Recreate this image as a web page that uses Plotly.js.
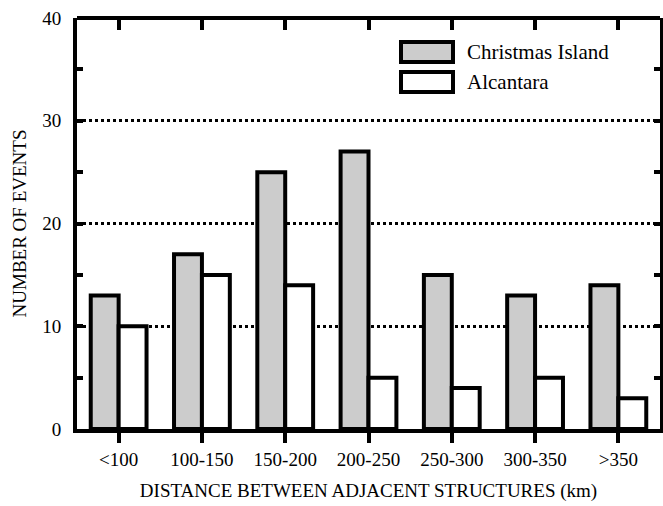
<!DOCTYPE html>
<html>
<head>
<meta charset="utf-8">
<script src="https://cdn.plot.ly/plotly-3.0.1.min.js"></script>
<style>html,body{margin:0;padding:0;background:#fff;}#chart{width:663px;height:506px;}</style>
</head>
<body>
<div id="chart"></div>
<script>
const categories = ['<100', '100-150', '150-200', '200-250', '250-300', '300-350', '>350'];
const seriesNames = ['Christmas Island', 'Alcantara'];
const christmasIsland = [13, 17, 25, 27, 15, 13, 14];
const alcantara = [10, 15, 14, 5, 4, 5, 3];
const yTicks = [0, 10, 20, 30, 40];
const yMinorTicks = [5, 15, 25, 35];
const categoryIndex = categories.map((c, i) => i);

const FONT = "Liberation Serif, Times New Roman, serif";

const traces = [
  {type: 'bar', name: seriesNames[0], x: categories, y: christmasIsland,
   marker: {color: '#cccccc', line: {color: 'black', width: 4}}, showlegend: false},
  {type: 'bar', name: seriesNames[1], x: categories, y: alcantara,
   marker: {color: '#ffffff', line: {color: 'black', width: 4}}, showlegend: false},
  {type: 'scatter', x: categoryIndex, y: christmasIsland, xaxis: 'x2', yaxis: 'y2', mode: 'markers',
   marker: {opacity: 0, size: 1}, showlegend: false, hoverinfo: 'skip'}
];

const layout = {
  width: 663, height: 506,
  margin: {l: 77, r: 3, t: 18, b: 77},
  paper_bgcolor: 'white', plot_bgcolor: 'white',
  font: {family: FONT, color: 'black', size: 19},
  barmode: 'group', bargap: 0.33, bargroupgap: 0,
  showlegend: false,
  xaxis: {
    type: 'category', categoryarray: categories, range: [-0.5, 6.5],
    showline: true, linewidth: 4, linecolor: 'black',
    ticks: 'outside', ticklen: 10, tickwidth: 4, tickcolor: 'black',
    tickfont: {family: FONT, size: 19},
    showgrid: false, zeroline: false,
    title: {text: 'DISTANCE BETWEEN ADJACENT STRUCTURES (km)', font: {family: FONT, size: 19}, standoff: 16}
  },
  xaxis2: {
    type: 'linear', range: [-0.5, 6.5],
    tickmode: 'array', tickvals: categoryIndex,
    overlaying: 'x', side: 'bottom', anchor: 'free', position: 1,
    showline: true, linewidth: 4, linecolor: 'black',
    ticks: 'outside', ticklen: 10, tickwidth: 4, tickcolor: 'black',
    showticklabels: false, showgrid: false, zeroline: false
  },
  yaxis: {
    range: [0, 40], tickvals: yTicks, ticktext: yTicks.map(String),
    showline: true, linewidth: 4, linecolor: 'black',
    ticks: 'inside', ticklen: 6, tickwidth: 4, tickcolor: 'black',
    ticklabelstandoff: 8,
    minor: {tickvals: yMinorTicks, ticks: 'inside', ticklen: 6, tickwidth: 4, tickcolor: 'black', showgrid: false},
    showgrid: true, gridcolor: 'black', gridwidth: 3, griddash: 'dot',
    zeroline: false,
    tickfont: {family: FONT, size: 19},
    title: {text: 'NUMBER OF EVENTS', font: {family: FONT, size: 19}, standoff: 12}
  },
  yaxis2: {
    range: [0, 40], overlaying: 'y', side: 'right', anchor: 'x',
    tickmode: 'array', tickvals: yTicks.concat(yMinorTicks),
    showline: true, linewidth: 4, linecolor: 'black',
    ticks: 'inside', ticklen: 6, tickwidth: 4, tickcolor: 'black',
    showticklabels: false, showgrid: false, zeroline: false
  },
  shapes: [
    {type: 'rect', xref: 'paper', yref: 'paper', x0: (401-77)/583, x1: (453-77)/583,
     y0: (429-62)/411, y1: (429-42)/411, fillcolor: '#cccccc', line: {color: 'black', width: 4}},
    {type: 'rect', xref: 'paper', yref: 'paper', x0: (401-77)/583, x1: (453-77)/583,
     y0: (429-92)/411, y1: (429-72)/411, fillcolor: '#ffffff', line: {color: 'black', width: 4}}
  ],
  annotations: [
    {xref: 'paper', yref: 'paper', x: (465-77)/583, y: (429-52)/411, xanchor: 'left', yanchor: 'middle',
     text: seriesNames[0], showarrow: false, font: {family: FONT, size: 21}},
    {xref: 'paper', yref: 'paper', x: (465-77)/583, y: (429-82)/411, xanchor: 'left', yanchor: 'middle',
     text: seriesNames[1], showarrow: false, font: {family: FONT, size: 21}}
  ]
};

Plotly.newPlot('chart', traces, layout, {displayModeBar: false, staticPlot: true});
</script>
</body>
</html>
